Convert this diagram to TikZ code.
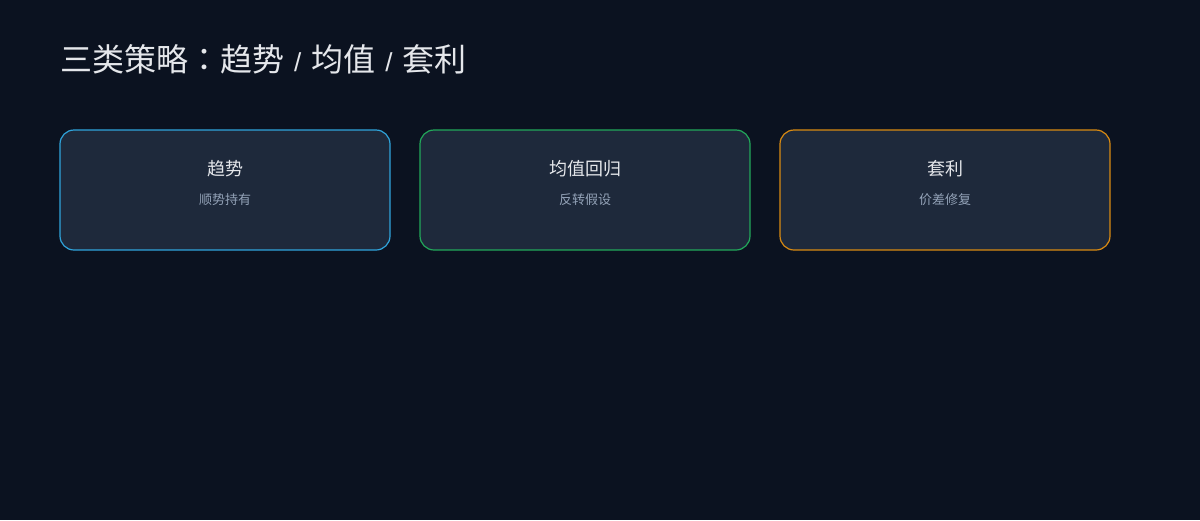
\documentclass[tikz,border=0pt]{standalone}
\usepackage{fontspec}
\usepackage{xcolor}
\usepackage{tikz}
\newfontfamily\cjk{Noto Sans CJK SC}
\newfontfamily\cjkjp{Noto Sans CJK JP}
\newfontfamily\latsans{Liberation Sans}
\definecolor{bgdark}{HTML}{0B1220}
\definecolor{cardfill}{HTML}{1E293B}
\definecolor{txtmain}{HTML}{E5E7EB}
\definecolor{txtsub}{HTML}{94A3B8}
\definecolor{trendblue}{HTML}{2FA4DC}
\definecolor{revgreen}{HTML}{22A85A}
\definecolor{arbamber}{HTML}{D98A12}
\newcommand{\tslash}{\hspace{10pt}{\latsans\fontsize{26pt}{27pt}\selectfont /}\hspace{10pt}}

\tikzset{
  card/.style={draw=#1, line width=1.2pt, fill=cardfill, rounded corners=14pt,
    minimum width=330pt, minimum height=120pt, inner sep=0pt},
  cardtitle/.style={text=txtmain, font=\cjk\fontsize{18pt}{20pt}\selectfont, inner sep=0pt},
  cardsub/.style={text=txtsub, font=\cjk\fontsize{13pt}{15pt}\selectfont, inner sep=0pt}
}

\begin{document}
\begin{tikzpicture}[x=1pt, y=-1pt]
% Background
\fill[bgdark] (0,0) rectangle (1200,520);
\useasboundingbox (0,0) rectangle (1200,520);
% Title
\node[anchor=west, text=txtmain, font=\cjk\fontsize{32pt}{36pt}\selectfont, inner sep=0pt] (title) at (60,59)
  {三类策略{\cjkjp ：}趋势\tslash 均值\tslash 套利};

% Cards
\node[card=trendblue] (trend) at (225,190) {};
\node[cardtitle] (trendT) at (225,169) {趋势};
\node[cardsub] (trendS) at (225,200) {顺势持有};

\node[card=revgreen] (revert) at (585,190) {};
\node[cardtitle] (revertT) at (585,169) {均值回归};
\node[cardsub] (revertS) at (585,200) {反转假设};

\node[card=arbamber] (arb) at (945,190) {};
\node[cardtitle] (arbT) at (945,169) {套利};
\node[cardsub] (arbS) at (945,200) {价差修复};
\end{tikzpicture}
\end{document}
